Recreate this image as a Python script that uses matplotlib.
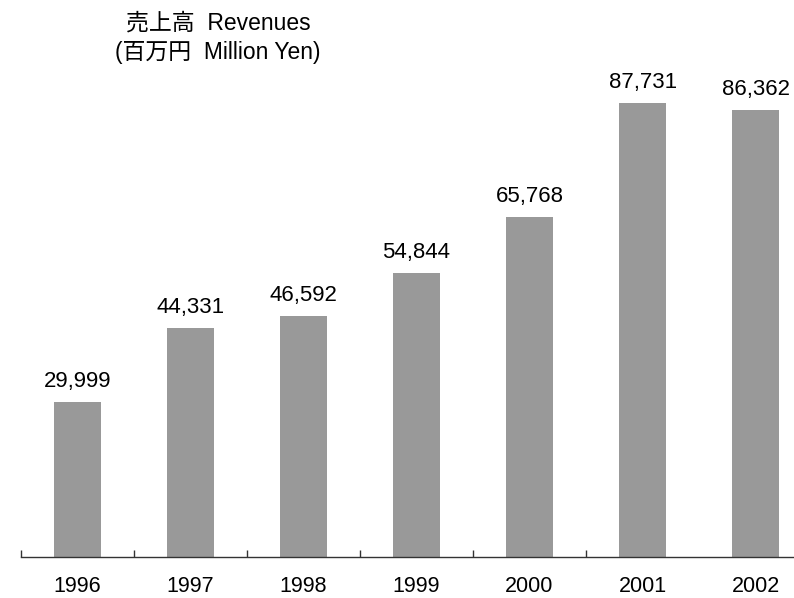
import matplotlib.pyplot as plt
import numpy as np

plt.rcParams['font.family'] = ['Liberation Sans', 'Noto Sans CJK JP', 'DejaVu Sans']

years = ['1996', '1997', '1998', '1999', '2000', '2001', '2002']
revenues = [29999, 44331, 46592, 54844, 65768, 87731, 86362]

fig = plt.figure(figsize=(7.94, 5.98), dpi=100)
ax = fig.add_axes([21 / 794, 41 / 598, 773 / 794, 497 / 598])

x = np.arange(len(years))
ax.bar(x, revenues, width=0.41, color='#999999')

for xi, v in zip(x, revenues):
    ax.annotate(f'{v:,}', (xi, v), xytext=(0, 7), textcoords='offset points',
                ha='center', va='bottom', fontsize=16)

ax.set_xlim(-0.5, 6.34)
ax.set_ylim(0, 96040)

for s in ['top', 'right', 'left']:
    ax.spines[s].set_visible(False)
ax.spines['bottom'].set_color('#333333')
ax.spines['bottom'].set_linewidth(1.0)
ax.set_yticks([])

ax.set_xticks(x)
ax.set_xticklabels(years, fontsize=15.5)
ax.tick_params(axis='x', which='major', length=0, pad=14)
ax.set_xticks(np.arange(len(years) - 1) - 0.5, minor=True)
ax.tick_params(axis='x', which='minor', direction='in', length=5, width=1, color='#333333')

fig.text(218 / 794, 1 - 23 / 598, '売上高  Revenues', ha='center', va='center', fontsize=16.5)
fig.text(218 / 794, 1 - 53 / 598, '(百万円  Million Yen)', ha='center', va='center', fontsize=16.5)

fig.savefig('out.png', dpi=100)
